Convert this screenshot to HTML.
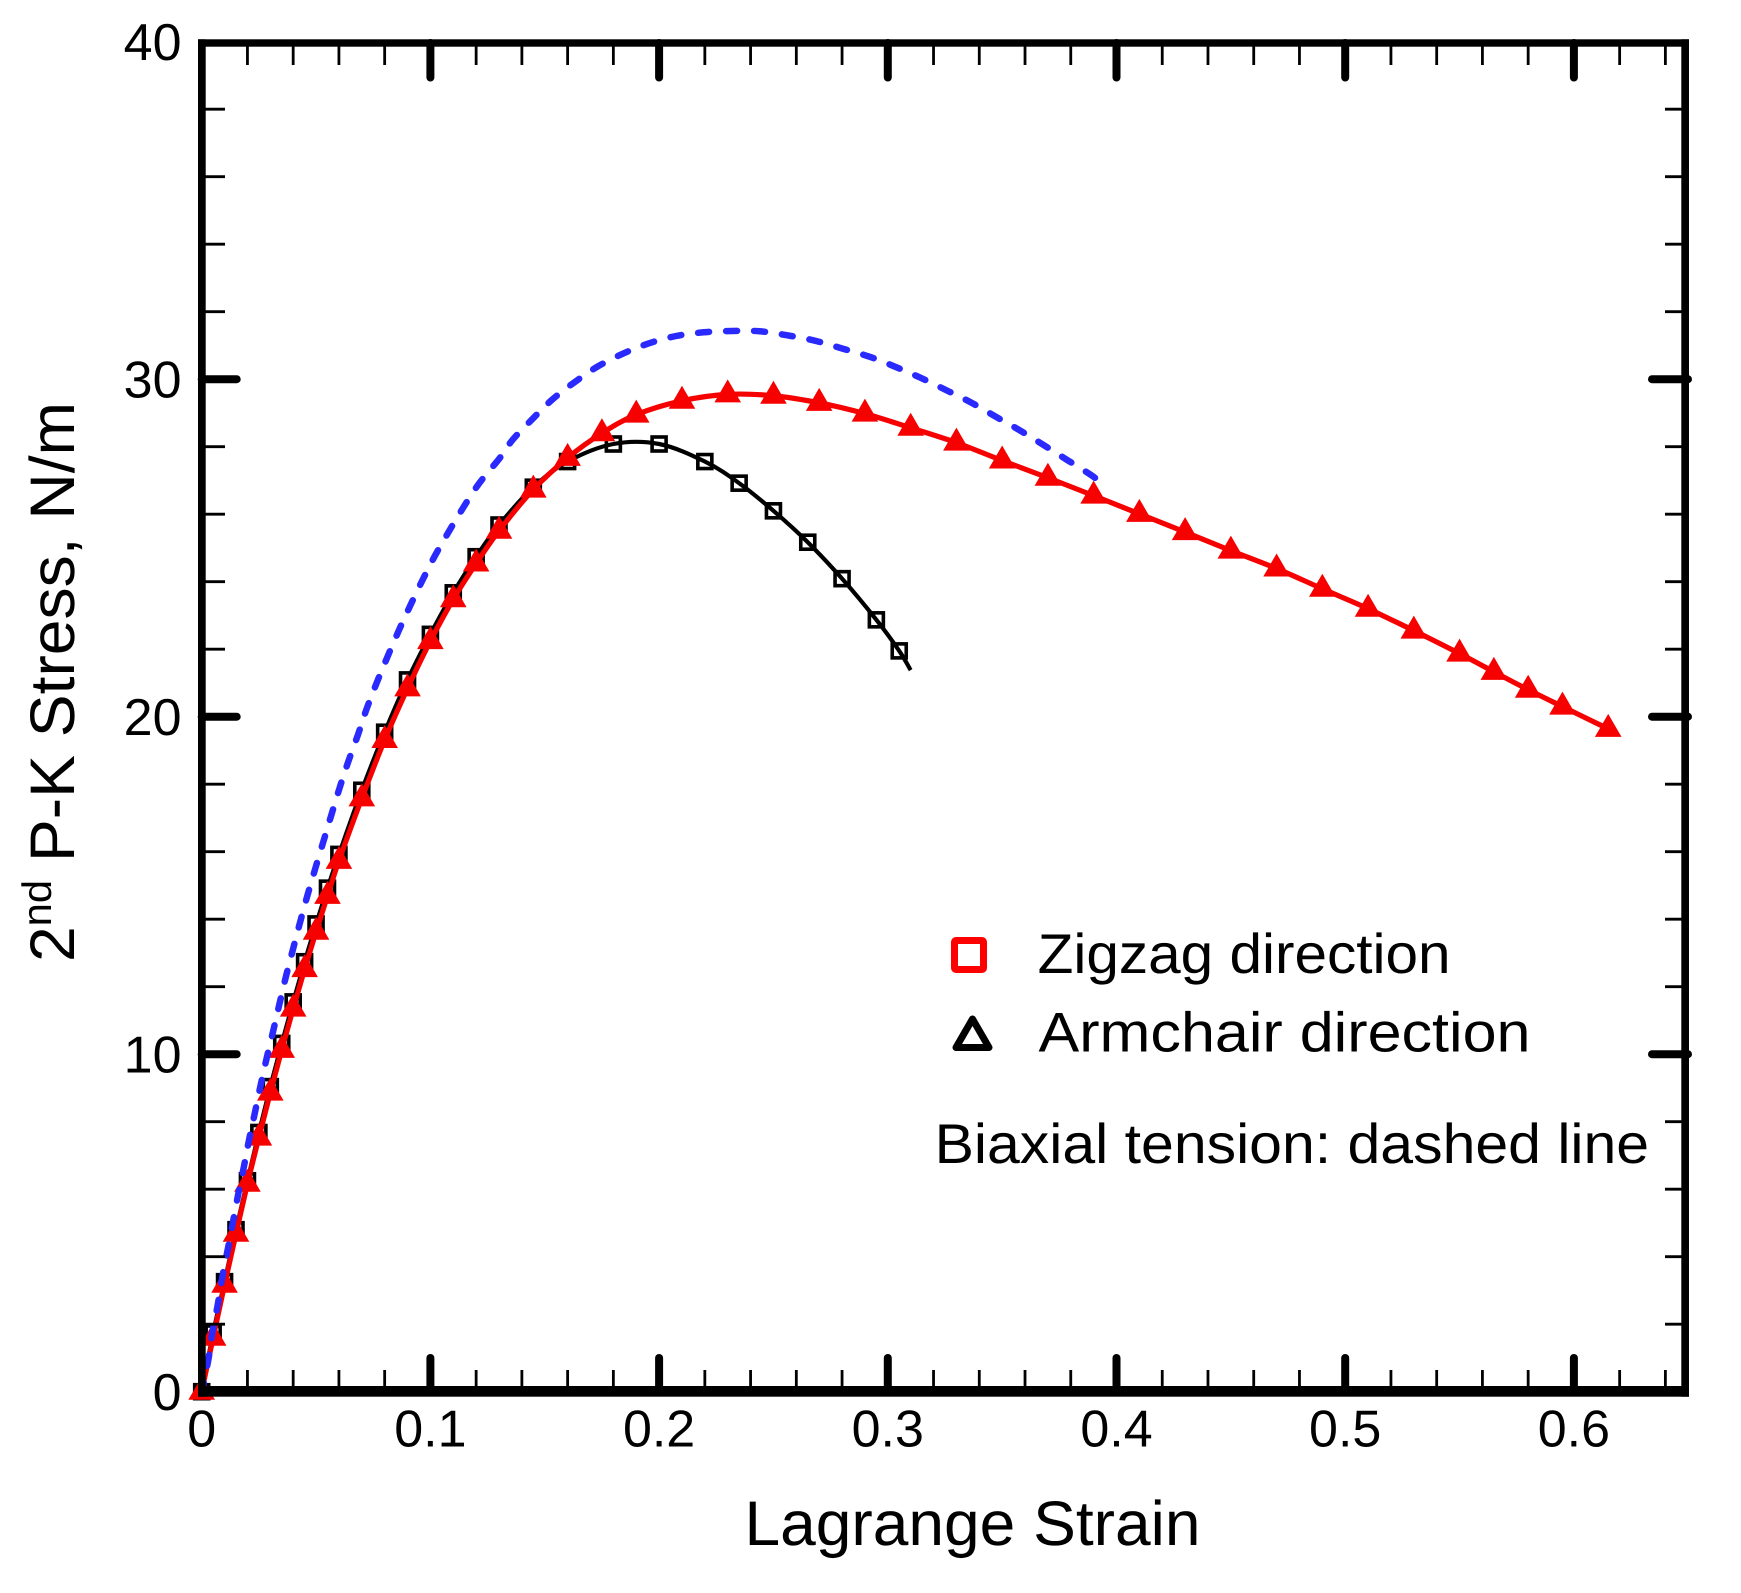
<!DOCTYPE html>
<html lang="en">
<head>
<meta charset="utf-8">
<title>2nd P-K Stress vs Lagrange Strain</title>
<style>
html,body{margin:0;padding:0;background:#fff;}
svg{display:block;}
text{font-family:"Liberation Sans",Arial,sans-serif;fill:#000;text-rendering:geometricPrecision;}
</style>
</head>
<body>
<svg id="chart" xmlns="http://www.w3.org/2000/svg" width="1741" height="1593" viewBox="0 0 1741 1593">
  <rect x="0" y="0" width="1741" height="1593" fill="#ffffff"/>
  <g id="series-layer"></g>
  <g id="axis-layer"></g>

  <text x="744.5" y="1545" font-size="63" textLength="456" lengthAdjust="spacingAndGlyphs">Lagrange Strain</text>
  <text transform="translate(74,962) rotate(-90)" font-size="63" textLength="560" lengthAdjust="spacingAndGlyphs">2<tspan font-size="41" dy="-23">nd</tspan><tspan dy="23"> P-K Stress, N/m</tspan></text>

  <g>
    <rect x="954.5" y="940.5" width="29" height="29" rx="1.5" fill="none" stroke="#ff0000" stroke-width="7"/>
    <text x="1037.6" y="973" font-size="56" textLength="413" lengthAdjust="spacingAndGlyphs">Zigzag direction</text>
    <path d="M972.5 1019 L989 1047.5 L956 1047.5 Z" fill="none" stroke="#000000" stroke-width="7" stroke-linejoin="round"/>
    <text x="1038.5" y="1051.5" font-size="56" textLength="492" lengthAdjust="spacingAndGlyphs">Armchair direction</text>
    <text x="934.6" y="1163" font-size="56" textLength="714.5" lengthAdjust="spacingAndGlyphs">Biaxial tension: dashed line</text>
  </g>
</svg>
<script>
const xTickLabels = ["0", "0.1", "0.2", "0.3", "0.4", "0.5", "0.6"];
const yTickLabels = ["0", "10", "20", "30", "40"];

const blackStrain = [0, 0.005, 0.01, 0.015, 0.02, 0.025, 0.03, 0.035, 0.04, 0.045, 0.05, 0.055, 0.06, 0.07, 0.08, 0.09, 0.1, 0.11, 0.12, 0.13, 0.145, 0.16, 0.18, 0.2, 0.22, 0.235, 0.25, 0.265, 0.28, 0.295, 0.305];
const blackStress = [0, 1.74, 3.26, 4.8, 6.25, 7.68, 9.04, 10.32, 11.55, 12.74, 13.86, 14.92, 15.92, 17.82, 19.54, 21.09, 22.44, 23.67, 24.74, 25.68, 26.8, 27.56, 28.08, 28.08, 27.56, 26.92, 26.1, 25.17, 24.09, 22.87, 21.95];
const blackLineEndStrain = [0.31];
const blackLineEndStress = [21.38];

const redStrain = [0, 0.005, 0.01, 0.015, 0.02, 0.025, 0.03, 0.035, 0.04, 0.045, 0.05, 0.055, 0.06, 0.07, 0.08, 0.09, 0.1, 0.11, 0.12, 0.13, 0.145, 0.16, 0.175, 0.19, 0.21, 0.23, 0.25, 0.27, 0.29, 0.31, 0.33, 0.35, 0.37, 0.39, 0.41, 0.43, 0.45, 0.47, 0.49, 0.51, 0.53, 0.55, 0.565, 0.58, 0.595, 0.615];
const redStress = [0, 1.6, 3.17, 4.68, 6.16, 7.53, 8.86, 10.13, 11.35, 12.52, 13.63, 14.69, 15.73, 17.58, 19.31, 20.84, 22.24, 23.48, 24.54, 25.51, 26.73, 27.67, 28.4, 28.95, 29.36, 29.55, 29.51, 29.3, 28.98, 28.56, 28.12, 27.59, 27.08, 26.55, 26.01, 25.47, 24.92, 24.39, 23.79, 23.2, 22.55, 21.87, 21.33, 20.8, 20.3, 19.64];

const biaxialStrain = [0, 0.0029, 0.0046, 0.007, 0.009, 0.0114, 0.0137, 0.0159, 0.0184, 0.0207, 0.0233, 0.0258, 0.0284, 0.0313, 0.0339, 0.0369, 0.04, 0.0431, 0.0463, 0.0497, 0.0532, 0.0567, 0.0603, 0.0641, 0.0683, 0.0721, 0.0765, 0.0812, 0.0861, 0.0911, 0.0965, 0.102, 0.1081, 0.1144, 0.1215, 0.1304, 0.1359, 0.1446, 0.153, 0.1628, 0.173, 0.1843, 0.1954, 0.2074, 0.2195, 0.2319, 0.244, 0.2561, 0.2682, 0.28, 0.2918, 0.3032, 0.3144, 0.3254, 0.3364, 0.3472, 0.3576, 0.3681, 0.3786, 0.3889, 0.3915];
const biaxialStress = [0, 0.94, 1.73, 2.57, 3.39, 4.22, 5.04, 5.83, 6.65, 7.46, 8.28, 9.09, 9.88, 10.7, 11.46, 12.32, 13.13, 13.93, 14.72, 15.51, 16.3, 17.09, 17.89, 18.67, 19.46, 20.23, 21.0, 21.77, 22.54, 23.28, 24.04, 24.77, 25.49, 26.2, 26.93, 27.67, 28.2, 28.82, 29.38, 29.9, 30.37, 30.76, 31.06, 31.28, 31.39, 31.43, 31.42, 31.3, 31.14, 30.91, 30.67, 30.37, 30.04, 29.68, 29.31, 28.89, 28.49, 28.05, 27.6, 27.16, 27.02];

const NS = 'http://www.w3.org/2000/svg';
const seriesLayer = document.getElementById('series-layer');
const axisLayer = document.getElementById('axis-layer');

function xScale(v) { return 201.7 + 2287 * v; }
function yScale(v) { return 1391.7 - 33.75 * v; }

function make(tag, parent, attrs) {
  const el = document.createElementNS(NS, tag);
  for (const k in attrs) el.setAttribute(k, attrs[k]);
  parent.appendChild(el);
  return el;
}

function smoothPath(xs, ys) {
  const p = xs.map((x, i) => [xScale(x), yScale(ys[i])]);
  let d = 'M' + p[0][0].toFixed(2) + ' ' + p[0][1].toFixed(2);
  for (let i = 0; i < p.length - 1; i++) {
    const p0 = p[Math.max(0, i - 1)], p1 = p[i], p2 = p[i + 1], p3 = p[Math.min(p.length - 1, i + 2)];
    const c1x = p1[0] + (p2[0] - p0[0]) / 6, c1y = p1[1] + (p2[1] - p0[1]) / 6;
    const c2x = p2[0] - (p3[0] - p1[0]) / 6, c2y = p2[1] - (p3[1] - p1[1]) / 6;
    d += 'C' + c1x.toFixed(2) + ' ' + c1y.toFixed(2) + ' ' + c2x.toFixed(2) + ' ' + c2y.toFixed(2) + ' ' + p2[0].toFixed(2) + ' ' + p2[1].toFixed(2);
  }
  return d;
}

/* black series */
const blackLine = make('path', seriesLayer, {
  d: smoothPath(blackStrain.concat(blackLineEndStrain), blackStress.concat(blackLineEndStress)),
  fill: 'none', stroke: '#000000', 'stroke-width': 4.2, 'stroke-linejoin': 'round'
});


blackStrain.forEach(function (x, i) {
  const sq = make('rect', seriesLayer, {
    x: xScale(x) - 7, y: yScale(blackStress[i]) - 7, width: 14, height: 14,
    fill: 'none', stroke: '#000000', 'stroke-width': 3.6
  });
  
  
});

/* red series */
const redLine = make('path', seriesLayer, {
  d: smoothPath(redStrain, redStress),
  fill: 'none', stroke: '#f70000', 'stroke-width': 5.2, 'stroke-linejoin': 'round'
});


redStrain.forEach(function (x, i) {
  const cx = xScale(x), cy = yScale(redStress[i]);
  const tri = make('polygon', seriesLayer, {
    points: cx + ',' + (cy - 15) + ' ' + (cx + 13.3) + ',' + (cy + 8) + ' ' + (cx - 13.3) + ',' + (cy + 8),
    fill: '#f70000'
  });
  
  
});

/* biaxial dashed series */
const biaxialLine = make('path', seriesLayer, {
  d: smoothPath(biaxialStrain, biaxialStress),
  fill: 'none', stroke: '#2a2aff', 'stroke-width': 6.5, 'stroke-linecap': 'round', 'stroke-linejoin': 'round',
  'stroke-dasharray': '11 17', 'stroke-dashoffset': '1.5'
});



/* axes: minor ticks */
const xLeft = 201.7, xRight = 1685, yTop = 43, yBottom = 1391.3;
for (let i = 1; i * 0.02 < 0.65; i++) {
  if (i % 5 === 0) continue;
  const px = xScale(i * 0.02);
  const bottomTick = make('line', axisLayer, { x1: px, x2: px, y1: yBottom, y2: 1370, stroke: '#000', 'stroke-width': 2.8 });
  
  
  const topTick = make('line', axisLayer, { x1: px, x2: px, y1: yTop, y2: 65, stroke: '#000', 'stroke-width': 2.8 });
  
  
}
for (let i = 1; i < 20; i++) {
  if (i % 5 === 0) continue;
  const py = yScale(i * 2);
  const leftTick = make('line', axisLayer, { x1: xLeft, x2: 225, y1: py, y2: py, stroke: '#000', 'stroke-width': 2.8 });
  
  
  const rightTick = make('line', axisLayer, { x1: xRight, x2: 1665, y1: py, y2: py, stroke: '#000', 'stroke-width': 2.8 });
  
  
}

/* axes: major ticks and labels */
xTickLabels.forEach(function (label) {
  const v = parseFloat(label);
  const px = xScale(v);
  if (v > 0) {
    const bottomTick = make('line', axisLayer, { x1: px, x2: px, y1: yBottom, y2: 1358, stroke: '#000', 'stroke-width': 8, 'stroke-linecap': 'round' });
    
    
    const topTick = make('line', axisLayer, { x1: px, x2: px, y1: yTop, y2: 77.5, stroke: '#000', 'stroke-width': 8, 'stroke-linecap': 'round' });
    
    
  }
  const t = make('text', axisLayer, { x: px, y: 1446.7, 'font-size': 52, 'text-anchor': 'middle' });
  t.textContent = label;
  
  
});
yTickLabels.forEach(function (label) {
  const v = parseFloat(label);
  const py = yScale(v);
  if (v > 0 && v < 40) {
    const leftTick = make('line', axisLayer, { x1: xLeft, x2: 236.7, y1: py, y2: py, stroke: '#000', 'stroke-width': 8, 'stroke-linecap': 'round' });
    
    
    const rightTick = make('line', axisLayer, { x1: 1688, x2: 1652, y1: py, y2: py, stroke: '#000', 'stroke-width': 8, 'stroke-linecap': 'round' });
    
    
  }
  const t = make('text', axisLayer, { x: 181.5, y: py + 18.5, 'font-size': 52, 'text-anchor': 'end' });
  t.textContent = label;
  
  
});

/* plot frame */
const leftSpine = make('rect', axisLayer, { x: 198, y: 39.3, width: 7.7, height: 1357.4, fill: '#000' });


const rightSpine = make('rect', axisLayer, { x: 1681.3, y: 39.3, width: 7.7, height: 1357.4, fill: '#000' });


const topSpine = make('rect', axisLayer, { x: 198, y: 39.3, width: 1491, height: 7.4, fill: '#000' });


const bottomSpine = make('rect', axisLayer, { x: 198, y: 1386, width: 1491, height: 10.7, fill: '#000' });


</script>
</body>
</html>
